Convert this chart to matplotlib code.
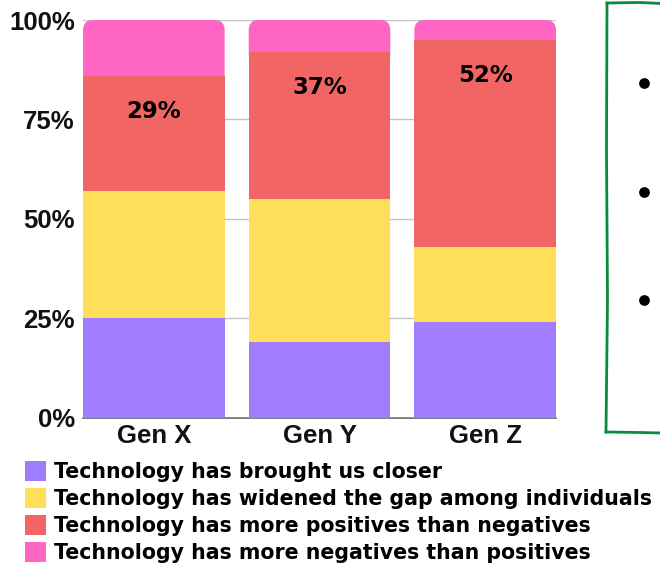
import matplotlib
matplotlib.use("Agg")
import matplotlib.pyplot as plt
from matplotlib.patches import FancyBboxPatch, Patch
import numpy as np

# Data (percent of each generation)
generations = ["Gen X", "Gen Y", "Gen Z"]
closer = [25, 19, 24]
widened = [32, 36, 19]
more_positives = [29, 37, 52]
more_negatives = [14, 8, 5]

labels = ["Technology has brought us closer",
          "Technology has widened the gap among individuals",
          "Technology has more positives than negatives",
          "Technology has more negatives than positives"]
colors = ["#A07CFE", "#FFDE59", "#F26565", "#FF66C4"]
y_ticks = [0, 25, 50, 75, 100]
y_tick_labels = ["0%", "25%", "50%", "75%", "100%"]

W, H = 660, 566
fig = plt.figure(figsize=(W / 100, H / 100), dpi=100)
ax = fig.add_axes([83 / W, 1 - 417.5 / H, (556 - 83) / W, (417.5 - 20) / H])

x = np.arange(len(generations))
bw = 0.855
b1 = np.array(closer)
b2 = b1 + np.array(widened)
b3 = b2 + np.array(more_positives)

h1 = ax.bar(x, closer, bw, color=colors[0], zorder=3)
h2 = ax.bar(x, widened, bw, bottom=b1, color=colors[1], zorder=3)
h3 = ax.bar(x, more_positives, bw, bottom=b2, color=colors[2], zorder=4)
h4 = ax.bar(x, more_negatives, bw, bottom=b3, color=colors[3], zorder=2)

ax.set_xlim(-0.4277, 2.4277)
ax.set_ylim(0, 100)

# rounded tops: replace the top segment with a rounded box that dips under the red one
px_x = 1 / 165.6          # x data units per pixel
px_y = 100 / 397.5        # y data units per pixel
for rect in h4:
    rect.set_visible(False)
for i in range(len(generations)):
    top = b3[i] + more_negatives[i]
    patch = FancyBboxPatch((x[i] - bw / 2, b3[i] - 3), bw, top - b3[i] + 3,
                           boxstyle="round,pad=0,rounding_size=%f" % (10 * px_x),
                           mutation_aspect=px_y / px_x,
                           facecolor=colors[3], edgecolor="none", zorder=2)
    ax.add_patch(patch)

# percent labels inside the red segment
for i in range(len(generations)):
    ax.text(x[i], b3[i] - 9, "%d%%" % more_positives[i], ha="center", va="center",
            fontsize=16.5, fontweight="bold", family="DejaVu Sans", color="black", zorder=5)

ax.set_yticks(y_ticks)
ax.set_yticklabels(y_tick_labels)
ax.set_xticks(x)
ax.set_xticklabels(generations)
ax.tick_params(length=0)
ax.tick_params(axis="y", pad=6)
ax.tick_params(axis="x", pad=5)
for t in ax.get_xticklabels() + ax.get_yticklabels():
    t.set_fontsize(18.5)
    t.set_fontweight("bold")
    t.set_family("Liberation Sans")
    t.set_color("#111111")

ax.grid(axis="y", color="#C4C4C4", linewidth=1, zorder=0)
for s in ["top", "right", "left"]:
    ax.spines[s].set_visible(False)
ax.spines["bottom"].set_color("#666666")
ax.spines["bottom"].set_linewidth(1.2)
ax.spines["bottom"].set_zorder(1)

# legend below the chart
handles = [Patch(facecolor=c, edgecolor="none") for c in colors]
fig.legend(handles, labels, loc="upper left",
           bbox_to_anchor=(25 / W, 1 - 461 / H), frameon=False,
           prop={"family": "DejaVu Sans", "weight": "bold", "size": 14.8},
           handlelength=1.0, handleheight=1.1, handletextpad=0.4,
           labelspacing=0.3, borderpad=0, borderaxespad=0)

# hand-drawn green box with bullets on the right (cut off by the edge)
deco = fig.add_axes([0, 0, 1, 1], facecolor="none")
deco.set_xlim(0, W)
deco.set_ylim(H, 0)
deco.axis("off")
green = "#0A8A3C"
deco.plot([662, 640, 607], [3.5, 2.5, 3], color=green, lw=2)
deco.plot([607, 606.5, 607.5, 606], [3, 150, 300, 432], color=green, lw=2)
deco.plot([606, 640, 662], [432, 432.5, 433], color=green, lw=2)
deco.scatter([644, 644, 644], [83, 192, 300], s=45, color="black")

fig.savefig("out.png", dpi=100)
